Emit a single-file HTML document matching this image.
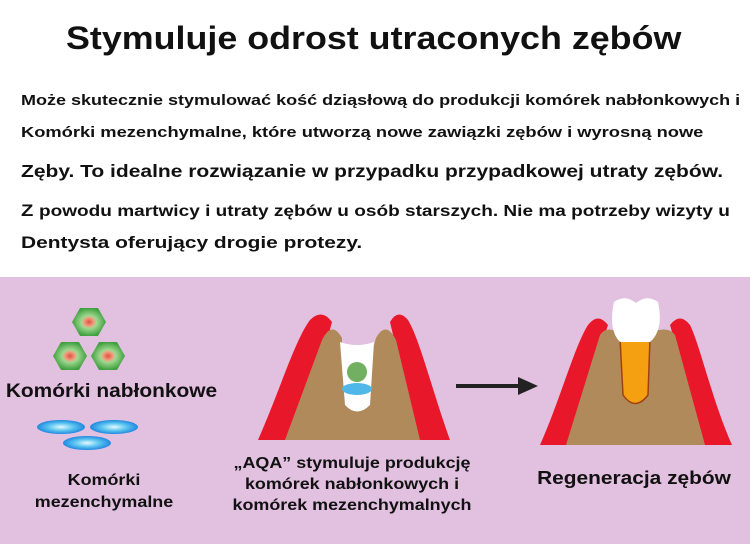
<!DOCTYPE html>
<html><head><meta charset="utf-8"><style>
body{margin:0;width:750px;height:544px;background:#fff;font-family:"Liberation Sans",sans-serif;position:relative;overflow:hidden;color:#111}
.t{position:absolute;white-space:nowrap;font-weight:bold;transform-origin:0 0}
.pink{position:absolute;left:0;top:277px;width:750px;height:267px;background:#e2c0e0}
.c{text-align:center;transform-origin:50% 0}
</style></head><body>
<div class="t" style="left:66px;top:20px;font-size:32px;transform:scaleX(1.12)">Stymuluje odrost utraconych zębów</div>
<div class="t" style="left:21px;top:92px;font-size:15px;transform:scaleX(1.2)">Może skutecznie stymulować kość dziąsłową do produkcji komórek nabłonkowych i</div>
<div class="t" style="left:21px;top:124px;font-size:15px;transform:scaleX(1.22)">Komórki mezenchymalne, które utworzą nowe zawiązki zębów i wyrosną nowe</div>
<div class="t" style="left:21px;top:161px;font-size:17.5px;transform:scaleX(1.2)">Zęby. To idealne rozwiązanie w przypadku przypadkowej utraty zębów.</div>
<div class="t" style="left:21px;top:201px;font-size:17px;transform:scaleX(1.19)">Z <span style="font-size:16px">powodu martwicy i utraty zębów u osób starszych. Nie ma potrzeby wizyty u</span></div>
<div class="t" style="left:21px;top:233px;font-size:17px;transform:scaleX(1.23)">Dentysta oferujący drogie protezy.</div>
<div class="pink"></div>
<svg width="750" height="544" style="position:absolute;left:0;top:0">
<defs><radialGradient id="g"><stop offset="0" stop-color="#e05040"/><stop offset=".3" stop-color="#f0a080"/><stop offset=".45" stop-color="#a0d890"/><stop offset="1" stop-color="#40a040"/></radialGradient>
<radialGradient id="b"><stop offset="0" stop-color="#e8f8ff"/><stop offset=".5" stop-color="#60c8f0"/><stop offset="1" stop-color="#2088e0"/></radialGradient></defs>
<g fill="url(#g)">
<polygon points="72,322 80,308 98,308 106,322 98,336 80,336"/>
<polygon points="53,356 61,342 79,342 87,356 79,370 61,370"/>
<polygon points="91,356 99,342 117,342 125,356 117,370 99,370"/>
</g>
<g fill="url(#b)">
<ellipse cx="61" cy="427" rx="24" ry="7"/><ellipse cx="114" cy="427" rx="24" ry="7"/><ellipse cx="87" cy="443" rx="24" ry="7"/>
</g>
<!-- left tooth -->
<path d="M258,440 C280,390 295,340 310,320 Q322,308 332,322 L300,440 Z" fill="#e8182a"/>
<path d="M450,440 C432,390 420,340 408,320 Q398,308 390,322 L418,440 Z" fill="#e8182a"/>
<path d="M285,440 L322,340 Q332,320 342,338 L342,345 L374,345 L376,338 Q386,320 396,340 L420,440 Z" fill="#b08a5a"/>
<path d="M340,342 Q357,348 374,342 L370,405 Q357,418 345,405 Z" fill="#fff"/>
<circle cx="357" cy="372" r="10" fill="#70b060"/>
<ellipse cx="357" cy="389" rx="15" ry="6" fill="#50b8e8"/>
<!-- arrow -->
<line x1="456" y1="386" x2="522" y2="386" stroke="#222" stroke-width="4"/>
<polygon points="518,377 538,386 518,395" fill="#222"/>
<!-- right tooth -->
<path d="M540,445 C560,400 575,345 588,325 Q598,312 608,325 L568,445 Z" fill="#e8182a"/>
<path d="M732,445 C712,400 700,345 690,325 Q680,312 670,325 L704,445 Z" fill="#e8182a"/>
<path d="M566,445 L600,335 Q605,328 612,330 L660,330 Q670,328 675,335 L705,445 Z" fill="#b08a5a"/>
<path d="M620,338 L650,338 L648,395 Q635,412 623,395 Z" fill="#f5a010" stroke="#a04010" stroke-width="1.5"/>
<path d="M614,302 Q625,294 636,303 Q647,294 658,302 Q664,330 650,342 L620,342 Q608,330 614,302 Z" fill="#fff"/>
</svg>
<div class="t c" style="left:0;width:223px;top:381px;font-size:19px;transform:scaleX(1.1)">Komórki nabłonkowe</div>
<div class="t c" style="left:0;width:208px;top:470px;font-size:16px;line-height:22px;transform:scaleX(1.12)">Komórki<br>mezenchymalne</div>
<div class="t c" style="left:217px;width:270px;top:453px;font-size:16px;line-height:21px;transform:scaleX(1.12)">„AQA” stymuluje produkcję<br>komórek nabłonkowych i<br>komórek mezenchymalnych</div>
<div class="t c" style="left:519px;width:230px;top:468px;font-size:18px;transform:scaleX(1.16)">Regeneracja zębów</div>
</body></html>
